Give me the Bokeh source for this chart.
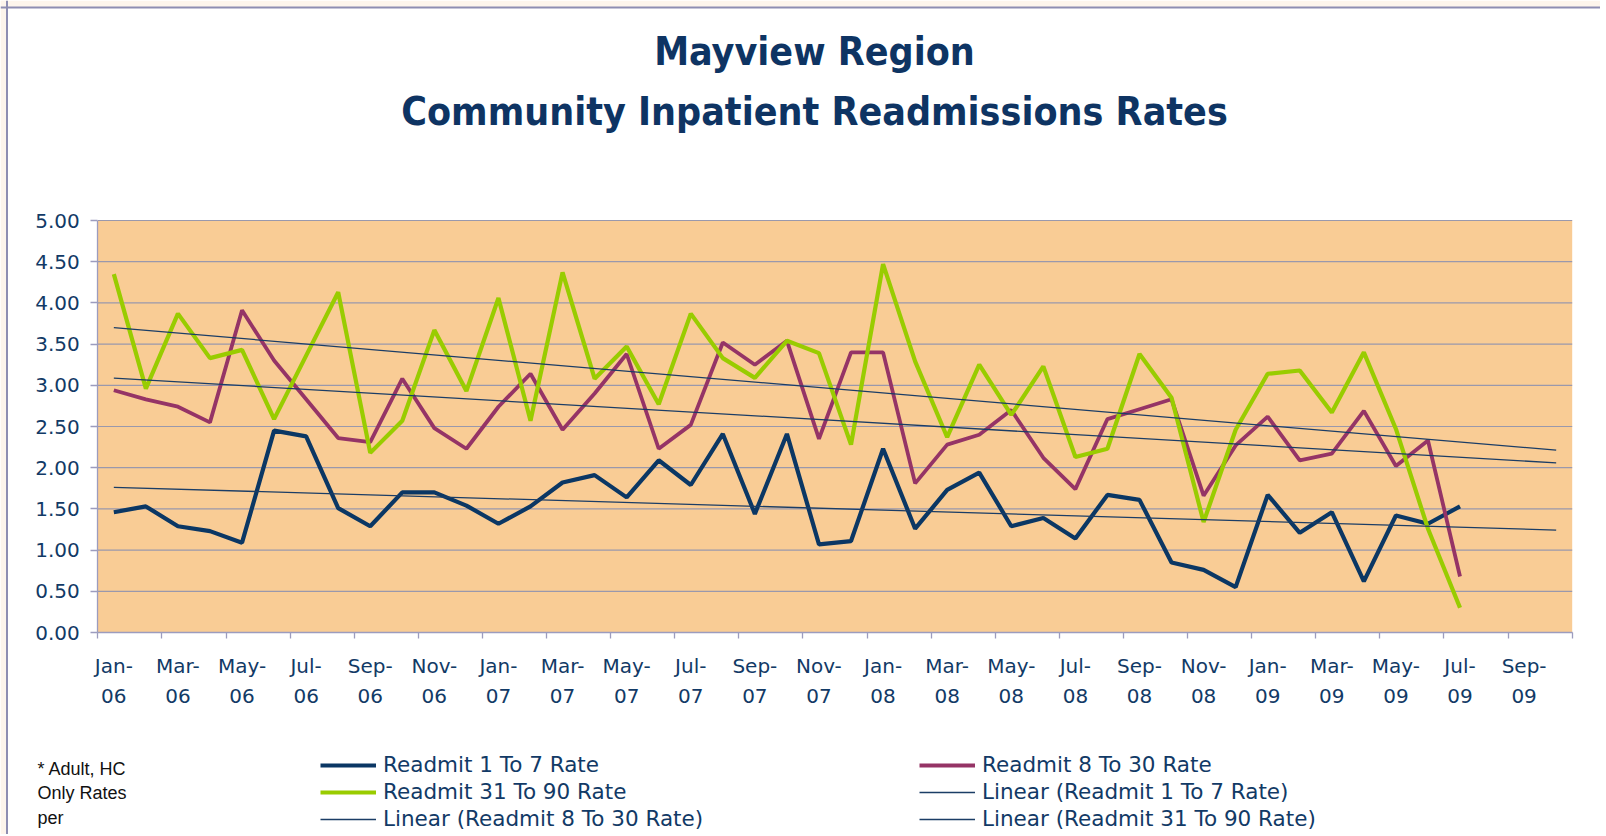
import numpy as np
from bokeh.plotting import figure
from bokeh.models import (Range1d, FixedTicker, LinearAxis, NumeralTickFormatter,
                          Legend, LegendItem, Label, Span, BoxAnnotation)
from bokeh.embed import file_html
from bokeh.resources import INLINE

# ---------------- data ----------------
months = ["Jan-06", "Feb-06", "Mar-06", "Apr-06", "May-06", "Jun-06", "Jul-06", "Aug-06",
          "Sep-06", "Oct-06", "Nov-06", "Dec-06", "Jan-07", "Feb-07", "Mar-07", "Apr-07",
          "May-07", "Jun-07", "Jul-07", "Aug-07", "Sep-07", "Oct-07", "Nov-07", "Dec-07",
          "Jan-08", "Feb-08", "Mar-08", "Apr-08", "May-08", "Jun-08", "Jul-08", "Aug-08",
          "Sep-08", "Oct-08", "Nov-08", "Dec-08", "Jan-09", "Feb-09", "Mar-09", "Apr-09",
          "May-09", "Jun-09", "Jul-09"]
n_categories = 46  # axis runs Jan-06 .. Oct-09 (trend lines forecast 3 periods)

readmit_1_7 = [1.46, 1.53, 1.29, 1.23, 1.09, 2.45, 2.38, 1.51, 1.29, 1.70,
               1.70, 1.54, 1.32, 1.53, 1.82, 1.91, 1.64, 2.09, 1.79, 2.41,
               1.44, 2.41, 1.07, 1.11, 2.23, 1.26, 1.73, 1.94, 1.29, 1.39,
               1.14, 1.67, 1.61, 0.85, 0.76, 0.55, 1.67, 1.21, 1.46, 0.62,
               1.42, 1.32, 1.53]
readmit_8_30 = [2.94, 2.83, 2.74, 2.55, 3.91, 3.30, 2.83, 2.36, 2.31, 3.08,
                2.48, 2.23, 2.74, 3.14, 2.46, 2.90, 3.38, 2.23, 2.52, 3.52,
                3.25, 3.54, 2.35, 3.40, 3.40, 1.81, 2.28, 2.40, 2.70, 2.12,
                1.74, 2.59, 2.71, 2.83, 1.66, 2.27, 2.62, 2.09, 2.17, 2.69,
                2.02, 2.33, 0.68]
readmit_31_90 = [4.35, 2.96, 3.87, 3.33, 3.43, 2.59, 3.36, 4.13, 2.18, 2.57,
                 3.67, 2.93, 4.06, 2.57, 4.37, 3.08, 3.47, 2.77, 3.87, 3.33,
                 3.09, 3.54, 3.39, 2.28, 4.47, 3.29, 2.37, 3.25, 2.64, 3.23,
                 2.13, 2.23, 3.38, 2.85, 1.34, 2.46, 3.14, 3.18, 2.67, 3.40,
                 2.47, 1.26, 0.30]

x_tick_labels = ["Jan-\n06", "Mar-\n06", "May-\n06", "Jul-\n06", "Sep-\n06", "Nov-\n06",
                 "Jan-\n07", "Mar-\n07", "May-\n07", "Jul-\n07", "Sep-\n07", "Nov-\n07",
                 "Jan-\n08", "Mar-\n08", "May-\n08", "Jul-\n08", "Sep-\n08", "Nov-\n08",
                 "Jan-\n09", "Mar-\n09", "May-\n09", "Jul-\n09", "Sep-\n09"]
y_ticks = [0.0, 0.5, 1.0, 1.5, 2.0, 2.5, 3.0, 3.5, 4.0, 4.5, 5.0]
y_min, y_max = 0.0, 5.0

title_1 = "Mayview Region"
title_2 = "Community Inpatient Readmissions Rates"
footnote = ["* Adult, HC", "Only Rates", "per"]

# ---------------- styles / layout ----------------
NAVY = "#0B3764"
MAGENTA = "#953466"
GREEN = "#99CC00"
TREND = "#1B3D66"
TEXT = "#123A66"
TITLE = "#0E3463"
AXIS = "#9C9CBE"
GRID = "#9A98AC"
BG = "#F9CC95"
PEACH = "#FDF5EC"
FRAME = "#8E8EB2"

W, H = 1600, 834
PLOT_LEFT, PLOT_RIGHT, PLOT_TOP, PLOT_BOTTOM = 97.3, 1571.7, 220.0, 632.0

x_lo, x_hi = -0.5, n_categories - 0.5
sx = (PLOT_RIGHT - PLOT_LEFT) / (x_hi - x_lo)
sy = (PLOT_BOTTOM - PLOT_TOP) / (y_max - y_min)
x_start = x_lo - PLOT_LEFT / sx
x_end = x_start + W / sx
y_end = y_max + PLOT_TOP / sy
y_start = y_end - H / sy


def px_x(px):
    return x_start + px / sx


def px_y(py):
    return y_end - py / sy


x = np.arange(len(months))
x_trend = np.array([0, n_categories - 1])

p = figure(width=W, height=H, output_backend="svg", toolbar_location=None,
           x_range=Range1d(x_start, x_end), y_range=Range1d(y_start, y_end),
           min_border=0, min_border_left=0, min_border_right=0,
           min_border_top=0, min_border_bottom=0)
p.background_fill_color = "white"
p.border_fill_color = "white"
p.outline_line_color = None
p.xgrid.visible = False
p.ygrid.visible = False

# outer chart border / page strip
p.add_layout(BoxAnnotation(bottom=px_y(6.5), fill_color=PEACH, fill_alpha=1, line_color=None))
p.add_layout(BoxAnnotation(right=px_x(6.0), fill_color=PEACH, fill_alpha=1, line_color=None))
p.add_layout(Span(location=px_y(7), dimension="width", line_color=FRAME, line_width=2))
p.add_layout(Span(location=px_x(6.5), dimension="height", line_color=FRAME, line_width=2))

# plot area background and horizontal gridlines
p.quad(left=x_lo, right=x_hi, bottom=y_min, top=y_max, fill_color=BG, line_color=None)
p.segment(x0=[x_lo] * len(y_ticks), x1=[x_hi] * len(y_ticks), y0=y_ticks, y1=y_ticks,
          line_color=GRID, line_width=1.2)

# y axis
ya = p.yaxis[0]
ya.fixed_location = x_lo
ya.bounds = (y_min, y_max)
ya.ticker = FixedTicker(ticks=y_ticks)
ya.formatter = NumeralTickFormatter(format="0.00")
ya.major_label_text_font = "DejaVu Sans"
ya.major_label_text_font_size = "20px"
ya.major_label_text_color = TEXT
ya.axis_line_color = AXIS
ya.axis_line_width = 1.3
ya.major_tick_line_color = AXIS
ya.major_tick_line_width = 1.3
ya.major_tick_out = 7
ya.major_tick_in = 0
ya.minor_tick_line_color = None
ya.major_label_standoff = 11

# bottom axis: tick marks at category boundaries every 2 categories
boundary_ticks = [x_lo + 2 * i for i in range(n_categories // 2 + 1)]
xa = p.xaxis[0]
xa.fixed_location = y_min
xa.bounds = (x_lo, x_hi)
xa.ticker = FixedTicker(ticks=boundary_ticks)
xa.major_label_overrides = {t: "" for t in boundary_ticks}
xa.major_label_text_font_size = "1px"
xa.axis_line_color = AXIS
xa.axis_line_width = 1.3
xa.major_tick_line_color = AXIS
xa.major_tick_line_width = 1.3
xa.major_tick_out = 6
xa.major_tick_in = 0
xa.minor_tick_line_color = None

label_ticks = list(range(0, n_categories, 2))
xa2 = LinearAxis(ticker=FixedTicker(ticks=label_ticks), fixed_location=y_min,
                 major_label_overrides={t: s for t, s in zip(label_ticks, x_tick_labels)})
xa2.axis_line_color = None
xa2.major_tick_line_color = None
xa2.minor_tick_line_color = None
xa2.major_tick_out = 0
xa2.major_label_standoff = 21
xa2.major_label_text_font = "DejaVu Sans"
xa2.major_label_text_font_size = "20px"
xa2.major_label_text_color = TEXT
xa2.major_label_text_line_height = 1.28
p.add_layout(xa2, "below")

# series
r17 = p.line(x, readmit_1_7, line_color=NAVY, line_width=4.2)
r830 = p.line(x, readmit_8_30, line_color=MAGENTA, line_width=3.8)
r3190 = p.line(x, readmit_31_90, line_color=GREEN, line_width=4.2)

trend_renderers = []
for series in (readmit_1_7, readmit_8_30, readmit_31_90):
    k, b = np.polyfit(x, series, 1)
    trend_renderers.append(p.line(x_trend, k * x_trend + b, line_color=TREND, line_width=1.3))

# legend (two columns; vertical layout fills column-wise)
items = [
    LegendItem(label="Readmit 1 To 7 Rate", renderers=[r17]),
    LegendItem(label="Readmit 31 To 90 Rate", renderers=[r3190]),
    LegendItem(label="Linear (Readmit 8 To 30 Rate)", renderers=[trend_renderers[1]]),
    LegendItem(label="Readmit 8 To 30 Rate", renderers=[r830]),
    LegendItem(label="Linear (Readmit 1 To 7 Rate)", renderers=[trend_renderers[0]]),
    LegendItem(label="Linear (Readmit 31 To 90 Rate)", renderers=[trend_renderers[2]]),
]
legend = Legend(items=items, ncols=2, location=(320, 3))
legend.background_fill_alpha = 0
legend.border_line_color = None
legend.padding = 0
legend.margin = 0
legend.spacing = 2
legend.glyph_width = 56
legend.glyph_height = 20
legend.label_standoff = 7
legend.label_width = 534
legend.label_height = 24
legend.label_text_font = "DejaVu Sans"
legend.label_text_font_size = "21.5px"
legend.label_text_color = TEXT
p.add_layout(legend, "center")

# titles
for txt, base in ((title_1, 51.0), (title_2, 111.0)):
    p.add_layout(Label(x=px_x(814), y=px_y(base), text=txt, text_align="center",
                       text_baseline="alphabetic", text_font="DejaVu Sans Condensed",
                       text_font_style="bold", text_font_size="39px", text_color=TITLE))

# footnote
for i, txt in enumerate(footnote):
    p.add_layout(Label(x=px_x(37), y=px_y(768.5 + 24.3 * i), text=txt, text_align="left",
                       text_baseline="alphabetic", text_font="Liberation Sans",
                       text_font_size="18px", text_color="#111111"))

open("out.html", "w").write(file_html(p, INLINE))
